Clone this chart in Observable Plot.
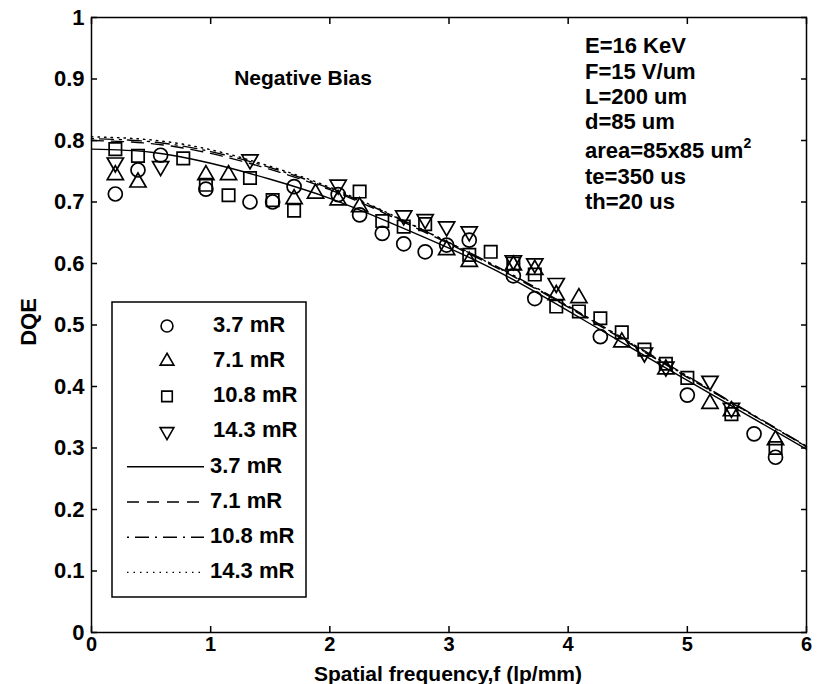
<!DOCTYPE html>
<html><head><meta charset="utf-8">
<script src="https://cdn.jsdelivr.net/npm/d3@7"></script>
<script src="https://cdn.jsdelivr.net/npm/@observablehq/plot@0.6"></script>
<style>
body{margin:0;background:#fff;}
#wrap{position:relative;width:817px;height:684px;}
</style></head><body><div id="wrap"></div>
<script>
// ---- data ----
const xTicks = [0,1,2,3,4,5,6];
const xTickLabels = ["0","1","2","3","4","5","6"];
const yTicks = [0,0.1,0.2,0.3,0.4,0.5,0.6,0.7,0.8,0.9,1];
const yTickLabels = ["0","0.1","0.2","0.3","0.4","0.5","0.6","0.7","0.8","0.9","1"];
const seriesNames = ["3.7 mR","7.1 mR","10.8 mR","14.3 mR"];

// measured spatial frequencies (lp/mm)
const freq = [0.2,0.39,0.58,0.77,0.96,1.15,1.33,1.52,1.7,1.88,2.07,2.25,2.44,2.62,2.8,2.98,3.17,3.35,3.54,3.72,3.9,4.09,4.27,4.45,4.64,4.82,5.0,5.19,5.37,5.56,5.74];
const dqe37  = [0.713,0.752,0.776,null,0.721,null,0.700,0.700,0.725,null,0.712,0.679,0.649,0.632,0.619,0.630,0.638,null,0.580,0.543,null,null,0.481,null,null,null,0.386,null,null,0.323,0.285];
const dqe71  = [0.744,0.732,null,null,0.744,0.744,null,null,0.705,0.714,0.703,0.692,null,null,null,0.622,0.603,null,0.597,0.590,0.549,0.544,null,0.472,null,0.428,null,0.372,0.360,null,0.313];
const dqe108 = [0.786,0.775,null,0.771,0.728,0.711,0.739,0.703,0.686,null,null,0.717,0.669,0.660,0.664,null,0.614,0.619,0.600,0.582,0.530,0.522,0.511,0.488,0.460,0.437,0.414,null,0.355,null,0.300];
const dqe143 = [0.764,null,0.758,null,null,null,0.769,null,null,null,0.728,null,null,0.678,0.672,0.660,0.652,null,0.605,0.600,0.568,null,null,null,0.455,0.432,null,0.409,0.365,null,null];

// model curves
const fitX    = [0,0.5,1,1.5,2,2.5,3,3.5,4,4.5,5,5.5,6];
const fit37   = [0.786,0.781,0.763,0.737,0.706,0.667,0.625,0.578,0.523,0.466,0.410,0.354,0.298];
const fit71   = [0.800,0.795,0.779,0.753,0.720,0.678,0.632,0.583,0.529,0.472,0.415,0.359,0.302];
const fit108  = [0.803,0.798,0.782,0.756,0.722,0.680,0.634,0.585,0.531,0.474,0.417,0.360,0.303];
const fit143  = [0.806,0.801,0.785,0.758,0.724,0.681,0.634,0.584,0.530,0.473,0.416,0.359,0.302];

const annotLines = ["E=16 KeV","F=15 V/um","L=200 um","d=85 um","area=85x85 um","te=350 us","th=20 us"];

// ---- build ----
const triangleDown = {
  draw(ctx, size) {
    const y = Math.sqrt(size / (Math.sqrt(3) * 3));
    ctx.moveTo(0, 2*y);
    ctx.lineTo(-Math.sqrt(3)*y, -y);
    ctx.lineTo(Math.sqrt(3)*y, -y);
    ctx.closePath();
  }
};
const pts = (ys) => freq.map((x,i)=>({x, y: ys[i]})).filter(d=>d.y!=null);
const crv = (ys) => fitX.map((x,i)=>({x, y: ys[i]}));
const fmt = (ticks, labels) => d => labels[ticks.findIndex(t=>Math.abs(t-d)<1e-9)] ?? "";

const markerDefs = [
  {data: dqe37,  symbol: "circle",   r: 7.0},
  {data: dqe71,  symbol: "triangle", r: 6.0},
  {data: dqe108, symbol: "square",   r: 7.0},
  {data: dqe143, symbol: triangleDown, r: 6.0}
];
const lineDefs = [
  {data: fit37,  dash: null},
  {data: fit71,  dash: "12,8"},
  {data: fit108, dash: "2,6,14,6"},
  {data: fit143, dash: "1.5,5"}
];

const FONT = '"Liberation Sans", Arial, Helvetica, sans-serif';
const chart = Plot.plot({
  width: 817, height: 684,
  marginLeft: 91, marginRight: 11, marginTop: 17, marginBottom: 52,
  x: {domain: [0,6]},
  y: {domain: [0,1]},
  style: {fontFamily: FONT, fontSize: "21px", fontWeight: "bold", color: "black", background: "white"},
  marks: [
    ...lineDefs.map(d => Plot.line(crv(d.data), {x:"x", y:"y", curve:"natural", stroke:"black", strokeWidth:1.4, strokeDasharray: d.dash})),
    ...markerDefs.map(d => Plot.dot(pts(d.data), {x:"x", y:"y", symbol: d.symbol, r: d.r, stroke:"black", strokeWidth:1.7, fill:"none"})),
    Plot.frame({stroke:"black", strokeWidth:1.5}),
    Plot.axisX({anchor:"bottom", ticks:xTicks, tickSize:-6, tickPadding:10, tickFormat: fmt(xTicks,xTickLabels), label:null, strokeWidth:1.5, fontSize:20}),
    Plot.axisX({anchor:"top", ticks:xTicks, tickSize:-6, tickFormat: () => "", label:null, strokeWidth:1.5}),
    Plot.axisY({anchor:"left", ticks:yTicks, tickSize:-6, tickPadding:13, tickFormat: fmt(yTicks,yTickLabels), label:null, strokeWidth:1.5, fontSize:22}),
    Plot.axisY({anchor:"right", ticks:yTicks, tickSize:-6, tickFormat: () => "", label:null, strokeWidth:1.5})
  ]
});
document.getElementById("wrap").appendChild(chart);

// ---- annotations, axis titles, legend ----
const svg = d3.select(chart);
const g = svg.append("g").attr("font-family", FONT).attr("font-weight","bold").attr("fill","black");

g.append("text").attr("x", 448).attr("y", 675).attr("text-anchor","middle").attr("dominant-baseline","middle")
  .attr("font-size", 21).text("Spatial frequency,f (lp/mm)");
g.append("text").attr("transform","translate(30,322) rotate(-90)").attr("text-anchor","middle").attr("dominant-baseline","middle")
  .attr("font-size", 22).text("DQE");
g.append("text").attr("x", 303).attr("y", 79).attr("text-anchor","middle").attr("dominant-baseline","middle")
  .attr("font-size", 21).text("Negative Bias");

const annotY = [47,73,98,123,152,178,203];
annotLines.forEach((t,i) => {
  const tx = g.append("text").attr("x", 585).attr("y", annotY[i]).attr("text-anchor","start").attr("dominant-baseline","middle").attr("font-size", 22).text(t);
  if (t.startsWith("area")) tx.append("tspan").attr("font-size", 14).attr("dy", -8).text("2");
});

// legend
const lg = svg.append("g").attr("font-family", FONT).attr("font-weight","bold");
lg.append("rect").attr("x",112).attr("y",302).attr("width",194).attr("height",295).attr("fill","white").attr("stroke","black").attr("stroke-width",1.5);
const rowY = k => 326 + 35.2*k;
markerDefs.forEach((d,k) => {
  const sym = typeof d.symbol === "string" ? ({circle:d3.symbolCircle, triangle:d3.symbolTriangle, square:d3.symbolSquare})[d.symbol] : d.symbol;
  lg.append("path").attr("transform",`translate(167,${rowY(k)})`).attr("d", d3.symbol(sym, Math.PI*(d.r*0.85)**2)())
    .attr("fill","none").attr("stroke","black").attr("stroke-width",1.6);
  lg.append("text").attr("x",213).attr("y",rowY(k)).attr("text-anchor","start").attr("dominant-baseline","middle").attr("font-size",22).text(seriesNames[k]);
});
lineDefs.forEach((d,k) => {
  const y = rowY(k+4);
  lg.append("line").attr("x1",127).attr("x2",204).attr("y1",y).attr("y2",y).attr("stroke","black").attr("stroke-width",1.4)
    .attr("stroke-dasharray", d.dash);
  lg.append("text").attr("x",210).attr("y",y).attr("text-anchor","start").attr("dominant-baseline","middle").attr("font-size",22).text(seriesNames[k]);
});
</script></body></html>
